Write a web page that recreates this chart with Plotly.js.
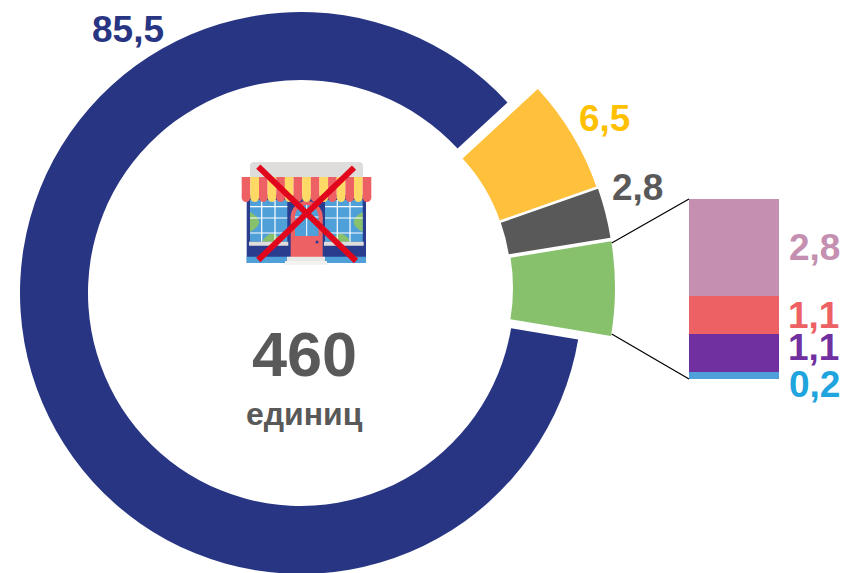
<!DOCTYPE html>
<html><head><meta charset="utf-8">
<script src="https://cdn.plot.ly/plotly-3.0.1.min.js"></script>
<style>html,body{margin:0;padding:0;background:#fff;overflow:hidden;width:843px;height:573px}
#chart{position:absolute;left:0;top:-30px}</style></head>
<body><div id="chart"></div>
<script>
// ---- data ----
const sliceNames = ['A','B','C','D'];
const sliceValues = [85.5, 6.5, 2.8, 5.2];
const sliceColors = ['#283583', '#FFC13B', '#595959', '#88C16C'];
const sliceLabelColors = ['#283583', '#FFC000', '#595959'];
const breakdownValues = [0.2, 1.1, 1.1, 2.8];
const breakdownColors = ['#4F9FD9', '#7030A0', '#ED6063', '#C48FB0'];
const breakdownLabelColors = ['#20A4DE', '#7030A0', '#ED6063', '#C48FB0'];
const centerNumber = '460';
const centerUnit = 'единиц';

// ---- geometry ----
const W = 843, OFF = 30, H = 573 + 2 * OFF;
const px = x => x / W, py = y => 1 - (y + OFF) / H;
const fmt = v => v.toFixed(1).replace('.', ',');
const ROT = 99.5;
const rings = [
  {i: 0, cx: 301, cy: 293, r: 281, inner: 213},
  {i: 1, cx: 331.8, cy: 279.2, r: 280.3, inner: 178},
  {i: 2, cx: 326.5, cy: 283.9, r: 287.7, inner: 184.7},
  {i: 3, cx: 324, cy: 288, r: 291, inner: 189}
];
const traces = rings.map(g => ({
  type: 'pie', sort: false, direction: 'clockwise', rotation: ROT,
  labels: sliceNames, values: sliceValues, hole: g.inner / g.r,
  textinfo: 'none', hoverinfo: 'skip', showlegend: false,
  domain: {x: [px(g.cx - g.r), px(g.cx + g.r)], y: [py(g.cy + g.r), py(g.cy - g.r)]},
  marker: {colors: sliceColors.map((c, k) => k === g.i ? c : 'rgba(0,0,0,0)'), line: {width: 0}}
}));
breakdownValues.forEach((v, k) => traces.push({
  type: 'bar', x: ['s'], y: [v], width: 1, marker: {color: breakdownColors[k], line: {width: 0}},
  hoverinfo: 'skip', showlegend: false, xaxis: 'x', yaxis: 'y'
}));

// ---- annotations ----
const font = (size, color) => ({family: '"Liberation Sans", Arial, sans-serif', size, color});
const ann = (text, x, y, size, color) => ({
  text: String(text), x: px(x), y: py(y), xref: 'paper', yref: 'paper', showarrow: false,
  xanchor: 'center', yanchor: 'middle', font: font(size, color)
});
const b = s => '<b>' + s + '</b>';
const annotations = [
  ann(b(fmt(sliceValues[0])), 128, 29, 37, sliceLabelColors[0]),
  ann(b(fmt(sliceValues[1])), 604, 118, 37, sliceLabelColors[1]),
  ann(b(fmt(sliceValues[2])), 637, 187, 37, sliceLabelColors[2]),
  ann(b(fmt(breakdownValues[3])), 814, 247, 37, breakdownLabelColors[3]),
  ann(b(fmt(breakdownValues[2])), 813, 315, 37, breakdownLabelColors[2]),
  ann(b(fmt(breakdownValues[1])), 813, 347, 37, breakdownLabelColors[1]),
  ann(b(fmt(breakdownValues[0])), 814, 384, 37, breakdownLabelColors[0]),
  ann(b(centerNumber), 304, 354, 63, '#595959'),
  ann(b(centerUnit), 304, 414, 32, '#595959')
];

// ---- shapes: connector lines and shop icon ----
const rect = (x0, y0, x1, y1, fill) => ({type: 'rect', xref: 'paper', yref: 'paper', x0: px(x0), x1: px(x1), y0: py(y0), y1: py(y1), fillcolor: fill, line: {width: 0}});
const line = (x0, y0, x1, y1, color, width) => ({type: 'line', xref: 'paper', yref: 'paper', x0: px(x0), x1: px(x1), y0: py(y0), y1: py(y1), line: {color, width}});
const circ = (x0, y0, x1, y1, fill) => ({type: 'circle', xref: 'paper', yref: 'paper', x0: px(x0), x1: px(x1), y0: py(y0), y1: py(y1), fillcolor: fill, line: {width: 0}});
const bump = (ax, ay, cx, cy, bx, by, fill) => ({type: 'path', xref: 'paper', yref: 'paper', fillcolor: fill, line: {width: 0},
  path: `M${px(ax)},${py(ay)} Q${px(cx)},${py(cy)} ${px(bx)},${py(by)} Z`});
const blue = '#4F9FD9', navy = '#2A3C8E', red = '#ED6063', yellow = '#FFD966', grey = '#DEDDDB', green = '#88C16C';
const shapes = [
  line(611.7, 243, 689, 199, '#000', 1.25),
  line(611.7, 334, 689, 379, '#000', 1.25)
];
// roof and building
shapes.push(circ(250, 162, 258, 170, grey), circ(355, 162, 363, 170, grey), rect(254, 162, 359, 170, grey), rect(250, 166, 363, 178, grey));
shapes.push(rect(246.7, 195, 366, 263, navy), rect(246.7, 256.7, 366, 263, blue));
// windows
[[250, 287.3, [261.7, 275]], [325, 362.7, [337.3, 350]]].forEach(([x0, x1, mull]) => {
  const left = x0 === 250, edge = left ? x0 : x1, dir = left ? 1 : -1;
  shapes.push(rect(x0, 200, x1, 241.7, blue));
  shapes.push(bump(edge, 212, edge + dir * 18, 222, edge, 232, green));
  shapes.push(bump(edge + dir * 12, 241.7, edge + dir * 22, 226, edge + dir * 32, 241.7, green));
  mull.forEach(m => shapes.push(line(m, 200, m, 241.7, '#fff', 1.2)));
  [206.7, 218, 233].forEach(y => shapes.push(line(x0, y, x1, y, '#fff', 1.2)));
  shapes.push(rect(x0 - 1, 241.7, x1 + 1, 245.7, grey));
});
// door
shapes.push(circ(290.7, 201, 322.7, 233, red), rect(290.7, 217, 322.7, 257, red));
shapes.push(circ(295, 205, 318.5, 229, blue), rect(295, 217, 318.5, 236, blue));
shapes.push(line(306.7, 205, 306.7, 236, '#fff', 1), line(295, 217, 318.5, 217, '#fff', 1));
shapes.push(circ(315.5, 240.5, 318.5, 243.5, navy));
shapes.push(rect(287, 256.7, 325, 261, '#E9E8E6'), rect(285, 261, 327, 265, '#F3F3F2'));
// awning stripes
for (let s = 0; s < 15; s++) {
  const x0 = 241.7 + s * 8.64, x1 = x0 + 8.64, c = s % 2 ? yellow : red;
  shapes.push(rect(x0, 177, x1, 197.5, c), circ(x0, 193, x1, 202, c));
}
// red cross
shapes.push(line(258.3, 166.7, 356, 261, '#E2061C', 6), line(354, 167.7, 258.3, 260, '#E2061C', 6));

const hide = {visible: false, fixedrange: true};
const layout = {
  width: W, height: H, margin: {l: 0, r: 0, t: 0, b: 0, pad: 0},
  paper_bgcolor: '#fff', plot_bgcolor: 'rgba(0,0,0,0)', showlegend: false,
  barmode: 'stack', bargap: 0,
  xaxis: Object.assign({domain: [px(689), px(779)], range: [-0.5, 0.5], type: 'category'}, hide),
  yaxis: Object.assign({domain: [py(379), py(199)], range: [0, 5.2]}, hide),
  annotations, shapes
};
Plotly.newPlot('chart', traces, layout, {displayModeBar: false, staticPlot: true});
</script></body></html>
